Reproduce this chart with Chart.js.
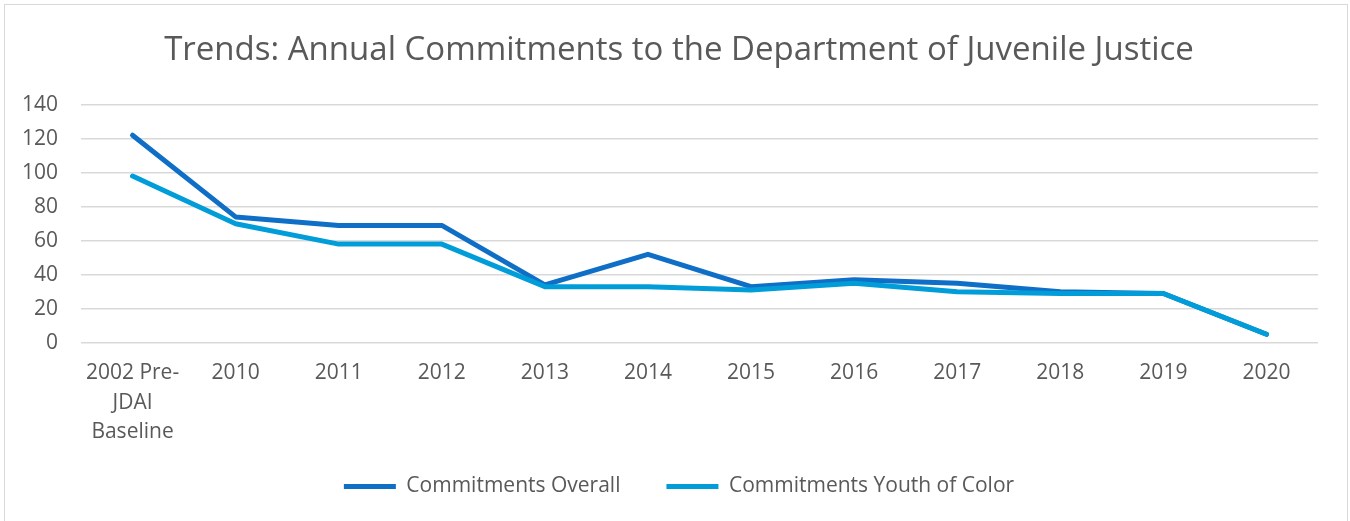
<!DOCTYPE html>
<html>
<head>
<meta charset="utf-8">
<script src="https://cdn.jsdelivr.net/npm/chart.js@4"></script>
<style>
  html, body { margin: 0; padding: 0; background: #fff; }
  #wrap { position: relative; width: 1350px; height: 521px; }
  #frame {
    position: absolute; left: 4px; top: 4px; width: 1342px; height: 540px;
    border: 1.5px solid #d9d9d9; pointer-events: none;
  }
</style>
</head>
<body>
<div id="wrap">
  <canvas id="chart" width="1350" height="521"></canvas>
  <div id="frame"></div>
</div>
<script>
const categories = [
  ["2002 Pre-", "JDAI", "Baseline"], "2010", "2011", "2012", "2013", "2014",
  "2015", "2016", "2017", "2018", "2019", "2020"
];
const overall = [122, 74, 69, 69, 34, 52, 33, 37, 35, 30, 29, 5];
const youthOfColor = [98, 70, 58, 58, 33, 33, 31, 35, 30, 29, 29, 5];
const yTicks = [0, 20, 40, 60, 80, 100, 120, 140];

const textColor = "#595959";
const gridColor = "#d9d9d9";
const font = "'Open Sans', 'Liberation Sans', sans-serif";

// axes are squeezed a bit below their natural size, so don't clip their labels
const noLabelClip = (scale) => { scale._computeLabelArea = () => undefined; };

const ctx = document.getElementById("chart").getContext("2d");

const chart = new Chart(ctx, {
  type: "line",
  data: {
    labels: categories,
    datasets: [
      {
        label: "Commitments Overall",
        data: overall,
        borderColor: "#0F6FC6",
        backgroundColor: "#0F6FC6",
        borderWidth: 5,
        pointRadius: 0,
        tension: 0,
        borderCapStyle: "round",
        borderJoinStyle: "round",
        order: 1,
      },
      {
        label: "Commitments Youth of Color",
        data: youthOfColor,
        borderColor: "#009DD9",
        backgroundColor: "#009DD9",
        borderWidth: 5,
        pointRadius: 0,
        tension: 0,
        borderCapStyle: "round",
        borderJoinStyle: "round",
        order: 0,
      },
    ],
  },
  options: {
    responsive: false,
    animation: false,
    // left padding only nudges the legend; y axis width makes up the rest
    layout: { padding: { left: 40, right: 32, top: 0, bottom: 14 } },
    plugins: {
      title: {
        display: true,
        text: "Trends: Annual Commitments to the Department of Juvenile Justice",
        color: textColor,
        font: { family: font, size: 33, weight: "normal" },
        padding: { top: 31, bottom: 34 },
      },
      legend: {
        position: "bottom",
        labels: {
          color: textColor,
          font: { family: font, size: 21 },
          usePointStyle: true,
          pointStyle: "line",
          pointStyleWidth: 52,
          padding: 46,
          sort: (a, b) => a.datasetIndex - b.datasetIndex,
        },
      },
      tooltip: { enabled: false },
    },
    scales: {
      x: {
        offset: true,
        afterFit: (scale) => { scale.height -= 33; noLabelClip(scale); },
        grid: { display: false, drawTicks: false },
        border: { display: false },
        ticks: {
          color: textColor,
          font: { family: font, size: 21, lineHeight: 1.4 },
          padding: 16,
          maxRotation: 0,
          autoSkip: false,
        },
      },
      y: {
        min: 0,
        max: 140,
        afterFit: (scale) => { scale.width = 41; noLabelClip(scale); },
        afterBuildTicks: (scale) => { scale.ticks = yTicks.map((v) => ({ value: v })); },
        grid: { color: gridColor, lineWidth: 1.5, drawTicks: false },
        border: { display: false },
        ticks: {
          color: textColor,
          font: { family: font, size: 21 },
          padding: 23,
        },
      },
    },
  },
});
</script>
</body>
</html>
